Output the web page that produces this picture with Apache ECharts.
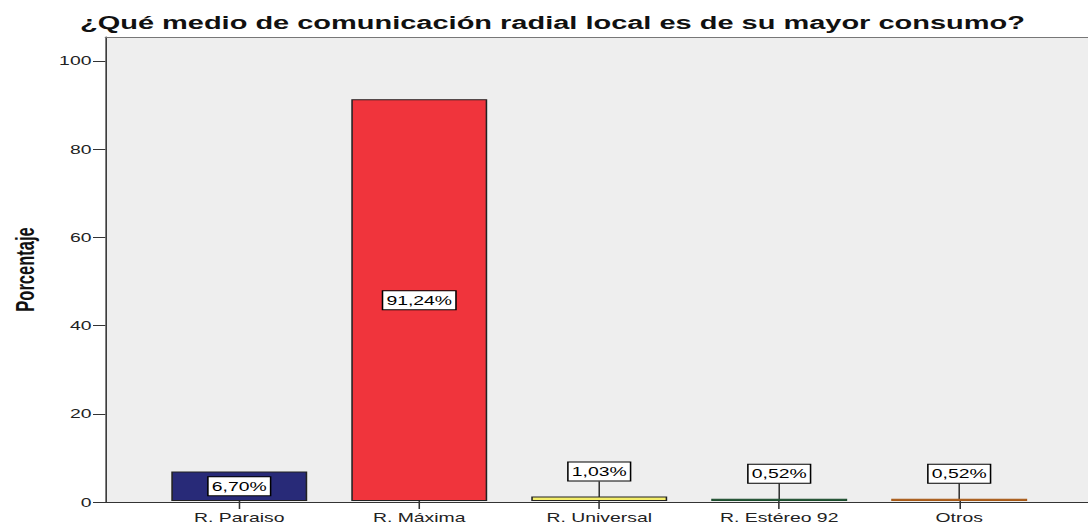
<!DOCTYPE html>
<html>
<head>
<meta charset="utf-8">
<script src="https://cdn.jsdelivr.net/npm/echarts@6/dist/echarts.min.js"></script>
<style>
  html, body { margin: 0; padding: 0; overflow: hidden; background: #fff; }
  /* the reference is stretched sideways, so the chart is drawn narrow and widened */
  #chart { width: 702px; height: 524px; transform: scaleX(1.55); transform-origin: 0 0; }
</style>
</head>
<body>
<div id="chart"></div>
<script>
var categories = ['R. Paraiso', 'R. Máxima', 'R. Universal', 'R. Estéreo 92', 'Otros']
var percentages = [6.70, 91.24, 1.03, 0.52, 0.52]
var barColors = ['#282a78', '#f0343c', '#f4ee6a', '#1c4d2e', '#a85a16']
var yTicks = [0, 20, 40, 60, 80, 100]

var font = '"Liberation Sans", Arial, sans-serif'
var myChart = echarts.init(document.getElementById('chart'), null, {renderer: 'svg'})

var option = {
  animation: false,
  title: {
    text: '¿Qué medio de comunicación radial local es de su mayor consumo?',
    left: 51.6,
    top: 13,
    padding: 0,
    textStyle: {fontFamily: font, fontSize: 18.7, fontWeight: 'bold', color: '#111'}
  },
  grid: [
    // background panel with the value axis
    {left: 63.9, right: 0, top: 37, bottom: 22, show: true, backgroundColor: '#eeeeee', borderWidth: 0},
    // bars
    {left: 96.3, right: 25.1, top: 37, bottom: 22}
  ],
  xAxis: [
    {
      gridIndex: 0, type: 'value', position: 'bottom', min: 0, max: 1,
      axisLine: {show: true, lineStyle: {color: '#333', width: 1}},
      axisTick: {show: false}, axisLabel: {show: false}, splitLine: {show: false}
    },
    {
      gridIndex: 0, type: 'value', position: 'top', min: 0, max: 1,
      axisLine: {show: true, lineStyle: {color: '#777', width: 1}},
      axisTick: {show: false}, axisLabel: {show: false}, splitLine: {show: false}
    },
    {
      gridIndex: 1, type: 'category', data: categories,
      axisLine: {show: false},
      axisTick: {show: true, alignWithLabel: true, length: 8, lineStyle: {color: '#333'}},
      axisLabel: {margin: 10, fontFamily: font, fontSize: 12.5, color: '#222'}
    }
  ],
  yAxis: [
    {
      gridIndex: 0, type: 'value', min: 0, max: 105.4,
      name: 'Porcentaje',
      nameLocation: 'middle',
      nameGap: 43,
      nameTextStyle: {fontFamily: font, fontSize: 16.5, fontWeight: 'bold', color: '#111'},
      axisLine: {show: true, lineStyle: {color: '#333', width: 1}},
      axisTick: {show: true, length: 8, customValues: yTicks, lineStyle: {color: '#333'}},
      axisLabel: {margin: 9, customValues: yTicks, fontFamily: font, fontSize: 12.5, color: '#222'},
      splitLine: {show: false}
    },
    {
      gridIndex: 1, type: 'value', min: 0, max: 105.4, show: false
    }
  ],
  series: [{
    type: 'bar',
    xAxisIndex: 2,
    yAxisIndex: 1,
    barWidth: 87.7,
    data: percentages.map(function (v, i) {
      // very thin bars keep their colour instead of turning into a dark outline
      return {value: v, itemStyle: {color: barColors[i], borderColor: v < 1 ? barColors[i] : '#222'}}
    }),
    itemStyle: {borderWidth: 1},
    label: {
      show: true,
      position: 'inside',
      formatter: function (p) {
        return p.value.toFixed(2).replace('.', ',') + '%'
      },
      fontFamily: font,
      fontSize: 12.5,
      color: '#000',
      backgroundColor: '#fff',
      borderColor: '#000',
      borderWidth: 1,
      padding: [3, 2, 2, 2]
    },
    labelLine: {show: true, lineStyle: {color: '#333', width: 1}},
    // small bars: lift the label above the bar, joined by a guide line
    labelLayout: function (params) {
      if (percentages[params.dataIndex] < 3) {
        return {dy: -(params.rect.height / 2 + 25)}
      }
      return {}
    }
  }]
}
myChart.setOption(option)
</script>
</body>
</html>
